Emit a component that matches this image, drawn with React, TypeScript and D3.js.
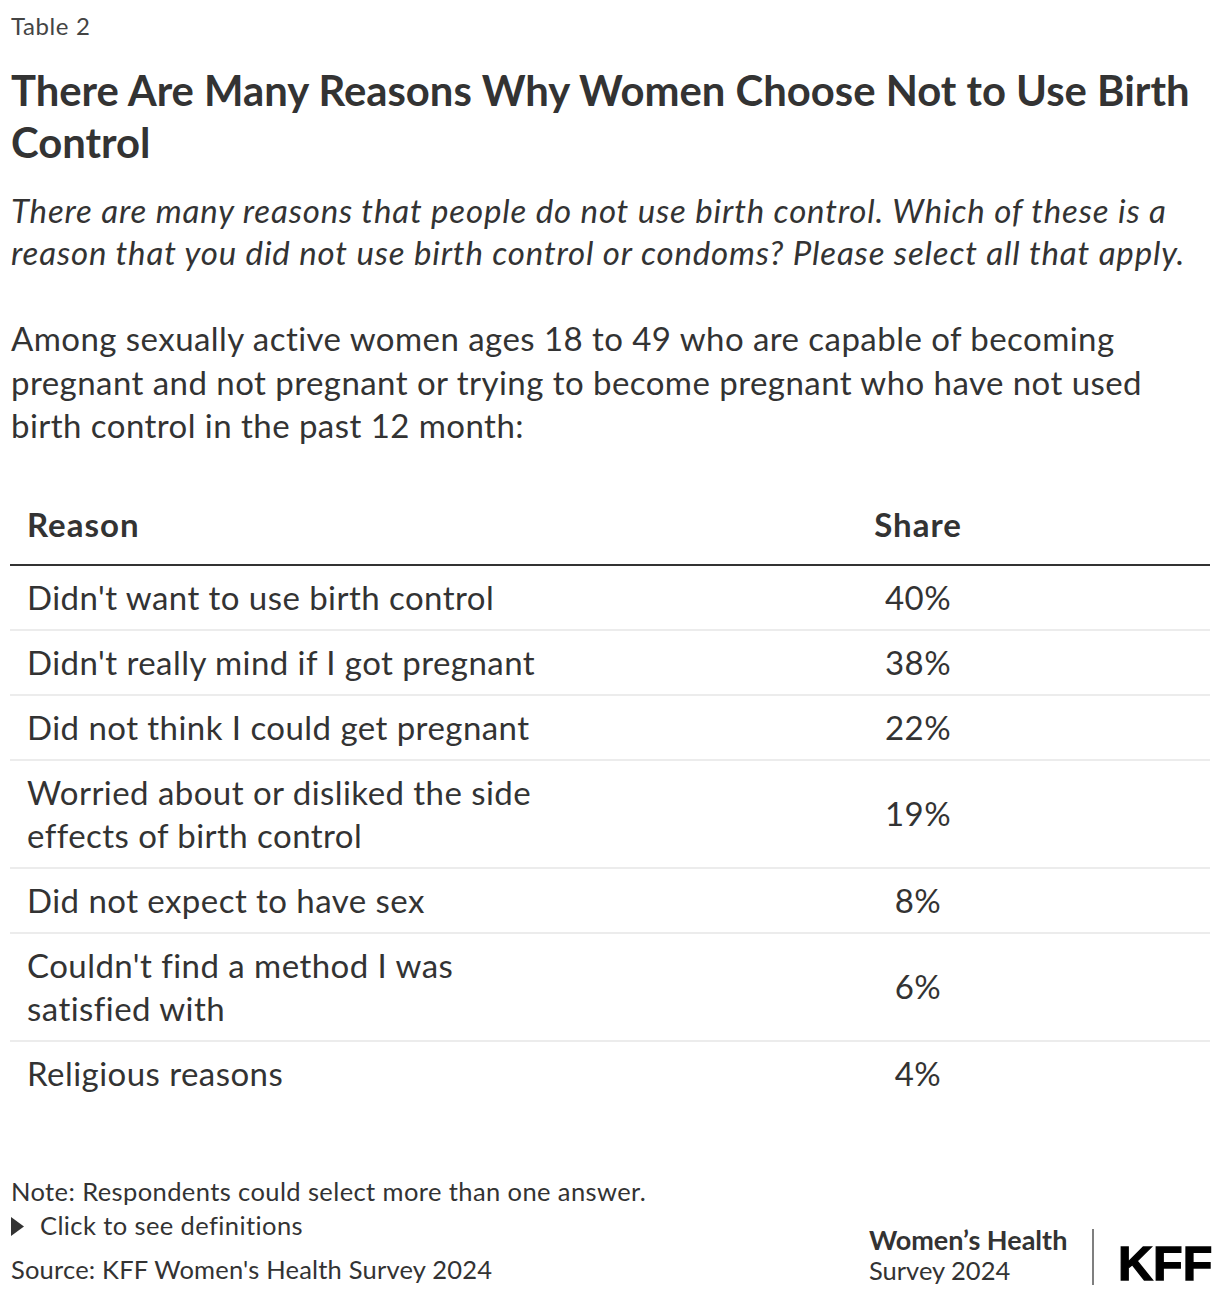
import React from "react";
import * as d3 from "d3";

const reasons = [
  "Didn't want to use birth control",
  "Didn't really mind if I got pregnant",
  "Did not think I could get pregnant",
  "Worried about or disliked the side\neffects of birth control",
  "Did not expect to have sex",
  "Couldn't find a method I was\nsatisfied with",
  "Religious reasons",
];
const shares = [40, 38, 22, 19, 8, 6, 4];

const headerLabels = ["Reason", "Share"];
const titleLines = [
  "There Are Many Reasons Why Women Choose Not to Use Birth",
  "Control",
];
const subtitleLines = [
  "There are many reasons that people do not use birth control. Which of these is a",
  "reason that you did not use birth control or condoms? Please select all that apply.",
];
const paraLines = [
  "Among sexually active women ages 18 to 49 who are capable of becoming",
  "pregnant and not pregnant or trying to become pregnant who have not used",
  "birth control in the past 12 month:",
];
const noteText = "Note: Respondents could select more than one answer.";
const clickText = "Click to see definitions";
const sourceText = "Source: KFF Women's Health Survey 2024";

const W = 1220;
const H = 1298;
const FONT = "Lato, 'Noto Sans', sans-serif";
const TXT = "#333333";

export default function App() {
  const fmt = d3.format(".0%");
  const lines = reasons.map((r) => r.split("\n"));
  const lineH = 43;
  const pad = 22;
  const heights = lines.map((l) => pad + l.length * lineH);
  const tableTop = 565;
  const ends = Array.from(d3.cumsum(heights)).map((v) => tableTop + v);
  const starts = ends.map((e, i) => e - heights[i]);
  const labelX = 27;
  const valueX = 918;
  const rowFs = 33;
  const rowLs = 0.45;

  return (
    <svg
      width={W}
      height={H}
      viewBox={`0 0 ${W} ${H}`}
      style={{ position: "absolute", left: 0, top: 0, background: "#fff" }}
      fontFamily={FONT}
    >
      <rect width={W} height={H} fill="#fff" />
      <text x={11} y={35} fontSize={24} letterSpacing={0.6} fill="#444">Table 2</text>
      {titleLines.map((t, i) => (
        <text key={i} x={11} y={106 + i * 52} fontSize={41.8} fontWeight={700} fill={TXT}>
          {t}
        </text>
      ))}
      {subtitleLines.map((t, i) => (
        <text key={i} x={11} y={223 + i * 42} fontSize={33} letterSpacing={0.85} fontStyle="italic" fill={TXT}>
          {t}
        </text>
      ))}
      {paraLines.map((t, i) => (
        <text key={i} x={11} y={351 + i * 43.5} fontSize={33} letterSpacing={0.45} fill={TXT}>
          {t}
        </text>
      ))}

      <text x={labelX} y={537} fontSize={33} letterSpacing={1} fontWeight={700} fill={TXT}>{headerLabels[0]}</text>
      <text x={valueX} y={537} fontSize={33} letterSpacing={1} fontWeight={700} fill={TXT} textAnchor="middle">
        {headerLabels[1]}
      </text>
      <line x1={10} x2={1210} y1={tableTop} y2={tableTop} stroke="#333" strokeWidth={2} />

      {lines.map((l, i) => {
        const cy = (starts[i] + ends[i]) / 2;
        const firstY = cy - ((l.length - 1) * lineH) / 2 + 12;
        return (
          <g key={i}>
            {l.map((s, j) => (
              <text key={j} x={labelX} y={firstY + j * lineH} fontSize={rowFs} letterSpacing={rowLs} fill={TXT}>
                {s}
              </text>
            ))}
            <text x={valueX} y={cy + 12} fontSize={rowFs} letterSpacing={rowLs} fill={TXT} textAnchor="middle">
              {fmt(shares[i] / 100)}
            </text>
            {i < lines.length - 1 && (
              <line x1={10} x2={1210} y1={ends[i]} y2={ends[i]} stroke="#ececec" strokeWidth={2} />
            )}
          </g>
        );
      })}

      <text x={11} y={1201} fontSize={25.5} letterSpacing={0.4} fill={TXT}>{noteText}</text>
      <path d="M11,1217 L24,1226.5 L11,1236 Z" fill={TXT} />
      <text x={40} y={1235} fontSize={25.5} letterSpacing={0.4} fill={TXT}>{clickText}</text>
      <text x={11} y={1279} fontSize={25.5} letterSpacing={0.2} fill={TXT}>{sourceText}</text>

      <text x={869} y={1250} fontSize={27} fontWeight={700} fill={TXT}>Women’s Health</text>
      <text x={869} y={1280} fontSize={25.5} fill={TXT}>Survey 2024</text>
      <line x1={1093} x2={1093} y1={1229} y2={1285} stroke="#555" strokeWidth={1.5} />
      <text x={1118} y={1280} fontSize={48.5} fontWeight={700} fill="#000" stroke="#000" strokeWidth={1.3}
        fontFamily="'Liberation Sans', Arial, sans-serif">
        KFF
      </text>
    </svg>
  );
}
